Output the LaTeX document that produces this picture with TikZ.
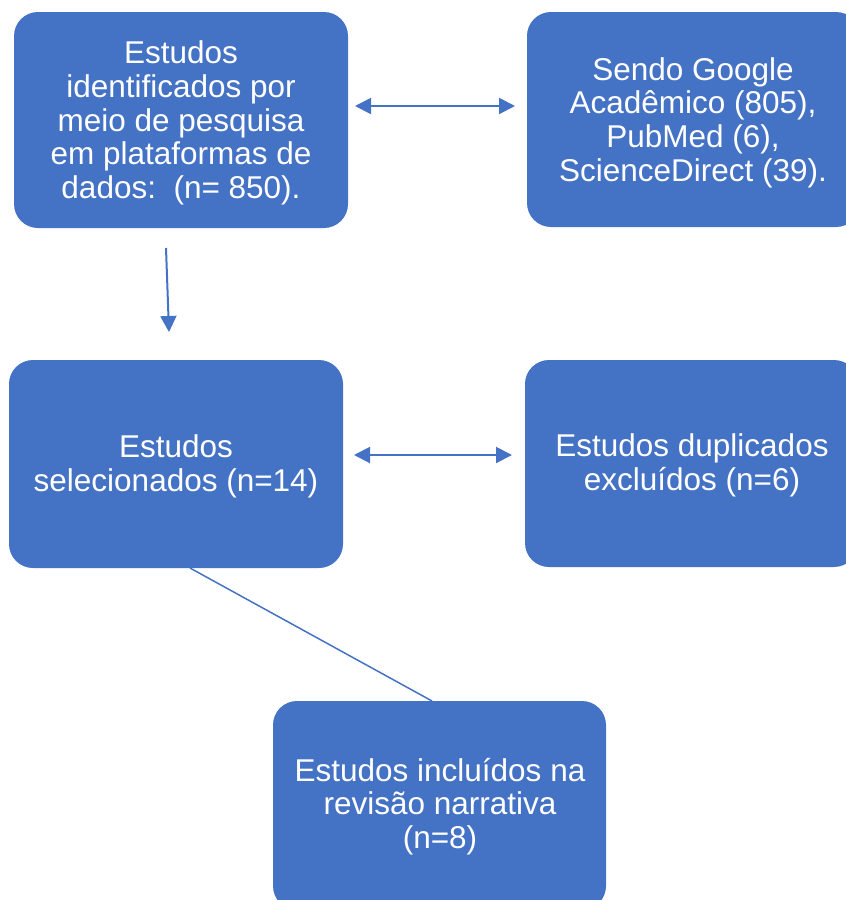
\documentclass[tikz,border=0pt]{standalone}
\usepackage{fontspec}
\setmainfont{Liberation Sans}
\usetikzlibrary{arrows.meta}
\definecolor{boxblue}{HTML}{4472C4}
\tikzset{
  flowbox/.style={fill=boxblue, draw=none, rounded corners=24pt, text=white,
    align=center, font=\fontsize{31.5}{33.6}\selectfont, inner sep=0pt},
  conn/.style={draw=boxblue, line width=2pt},
  tip/.style={-{Triangle[length=16pt,width=16pt]}},
  dtip/.style={{Triangle[length=16pt,width=16pt]}-{Triangle[length=16pt,width=16pt]}}
}
\begin{document}
\begin{tikzpicture}[x=1pt,y=-1pt]
\useasboundingbox (0,0) rectangle (846,900);
\clip (0,0) rectangle (846,900);
% boxes
\path[flowbox] (14,12) rectangle (348,228);
\node[flowbox, fill=none] (a) at (181,123) {Estudos\\identificados por\\meio de pesquisa\\em plataformas de\\dados:\ \ (n= 850).};
\path[flowbox] (527,12) rectangle (860,227);
\node[flowbox, fill=none] (b) at (693,122.5) {Sendo Google\\Acadêmico (805),\\PubMed (6),\\ScienceDirect (39).};
\path[flowbox] (9,360) rectangle (343,568);
\node[flowbox, fill=none] (c) at (176,466.5) {Estudos\\selecionados (n=14)};
\path[flowbox] (525,360) rectangle (858,567);
\node[flowbox, fill=none] (d) at (692,465.5) {Estudos duplicados\\excluídos (n=6)};
\path[flowbox] (273,701) rectangle (606,910);
\node[flowbox, fill=none] (e) at (440,806.5) {Estudos incluídos na\\revisão narrativa\\(n=8)};
% connector end points
\coordinate (ab1) at (355,106);
\coordinate (ab2) at (515,106);
\coordinate (ac1) at (166,248);
\coordinate (ac2) at (169,332);
\coordinate (cd1) at (354,455);
\coordinate (cd2) at (512,455);
\coordinate (ce1) at (190,568);
\coordinate (ce2) at (432,701);
% connectors
\draw[conn, dtip] (ab1) -- (ab2);
\draw[conn, tip] (ac1) -- (ac2);
\draw[conn, dtip] (cd1) -- (cd2);
\draw[draw=boxblue, line width=1.5pt] (ce1) -- (ce2);
\end{tikzpicture}
\end{document}
